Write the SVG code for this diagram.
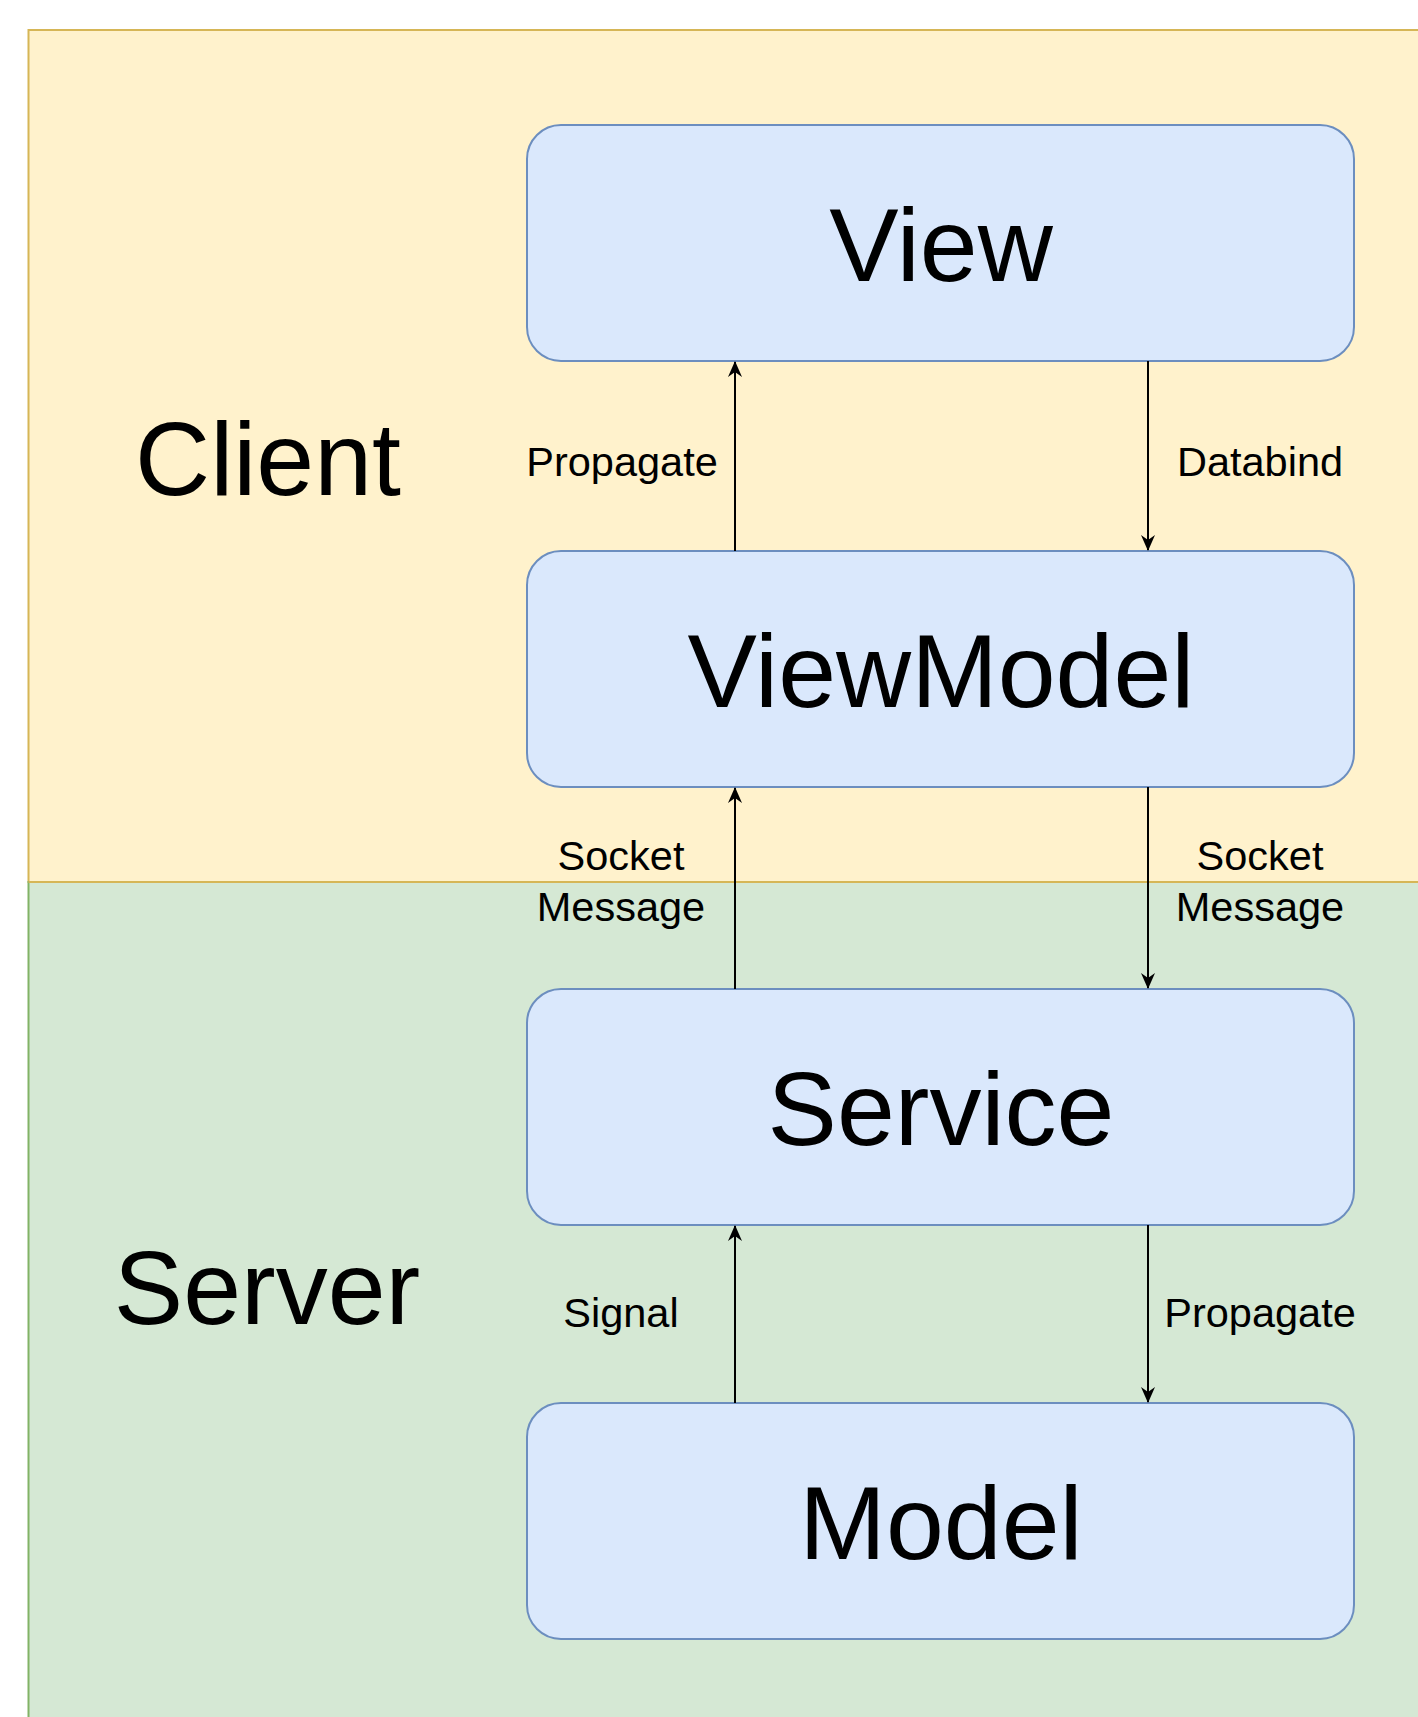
<svg xmlns="http://www.w3.org/2000/svg" width="1418" height="1717" viewBox="0 0 1418 1717">
<style>
.node rect{fill:#dae8fc;stroke:#6c8ebf;stroke-width:2}
.big{font-family:"Liberation Sans",Arial,sans-serif;font-size:104px;fill:#000;text-anchor:middle}
.lbl{font-family:"Liberation Sans",Arial,sans-serif;font-size:41.5px;fill:#000;text-anchor:middle}
.edge{stroke:#000;stroke-width:2;fill:none;marker-end:url(#arr)}
</style>
<defs>
<marker id="arr" viewBox="0 0 16 16" refX="15" refY="8" markerWidth="16" markerHeight="16" markerUnits="userSpaceOnUse" orient="auto">
<path d="M0,1 L16,8 L0,15 L5,8 Z" fill="#000"/>
</marker>
</defs>
<rect width="1418" height="1717" fill="#fff"/>
<g id="client">
<rect x="28.5" y="30" width="1400" height="852" fill="#fff2cc" stroke="#d6b656" stroke-width="2"/>
<text class="big" x="268" y="495">Client</text>
</g>
<g id="server">
<rect x="28.5" y="882" width="1400" height="850" fill="#d5e8d4" stroke="#82b366" stroke-width="2"/>
<line x1="28.5" y1="882" x2="1418" y2="882" stroke="#d6b656" stroke-width="2"/>
<text class="big" x="267" y="1324">Server</text>
</g>
<g id="view" class="node">
<rect x="527" y="125" width="827" height="236" rx="34"/>
<text class="big" x="941" y="281">View</text>
</g>
<g id="viewmodel" class="node">
<rect x="527" y="551" width="827" height="236" rx="34"/>
<text class="big" x="941" y="707">ViewModel</text>
</g>
<g id="service" class="node">
<rect x="527" y="989" width="827" height="236" rx="34"/>
<text class="big" x="941" y="1145">Service</text>
</g>
<g id="model" class="node">
<rect x="527" y="1403" width="827" height="236" rx="34"/>
<text class="big" x="941" y="1559">Model</text>
</g>
<g id="connectors">
<line class="edge" x1="735" y1="551" x2="735" y2="362"/>
<line class="edge" x1="1148" y1="361" x2="1148" y2="550"/>
<line class="edge" x1="735" y1="989" x2="735" y2="788"/>
<line class="edge" x1="1148" y1="787" x2="1148" y2="988"/>
<line class="edge" x1="735" y1="1403" x2="735" y2="1226"/>
<line class="edge" x1="1148" y1="1225" x2="1148" y2="1402"/>
<text class="lbl" x="622" y="476">Propagate</text>
<text class="lbl" x="1260" y="476">Databind</text>
<text class="lbl" x="621" y="870">Socket</text>
<text class="lbl" x="621" y="921">Message</text>
<text class="lbl" x="1260" y="870">Socket</text>
<text class="lbl" x="1260" y="921">Message</text>
<text class="lbl" x="621" y="1327">Signal</text>
<text class="lbl" x="1260" y="1327">Propagate</text>
</g>
</svg>
